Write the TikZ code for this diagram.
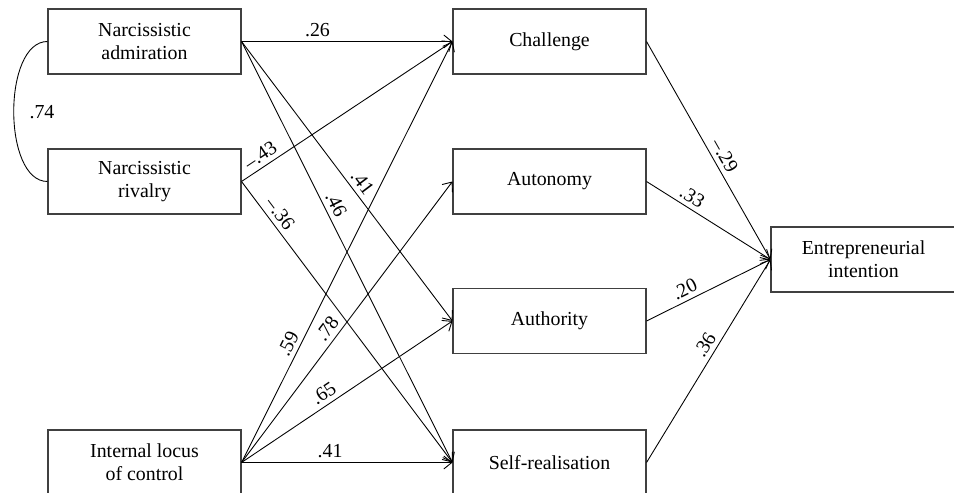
\documentclass[tikz,border=0pt]{standalone}
\usepackage{fontspec}
\setmainfont{Liberation Serif}
\usetikzlibrary{arrows.meta}

\tikzset{
  varbox/.style={draw=black!75, line width=0.6pt, minimum width=3.86cm, minimum height=1.3cm,
    align=center, inner sep=0pt},
  effect/.style={->, line width=0.5pt},
  coef/.style={sloped, above, inner sep=2.5pt},
}

\begin{document}
\begin{tikzpicture}[>={Straight Barb[length=1.6mm,width=2.6mm]},
    font=\fontsize{11.3}{12.9}\selectfont]
        \useasboundingbox (0,0) rectangle (19.08,9.84);

        \def\xleft{2.89}
        \def\xmid{10.99}

        % Predictors
        \node[varbox] (adm) at (\xleft,9.01) {Narcissistic\\admiration};
        \node[varbox] (riv) at (\xleft,6.21) {Narcissistic\\rivalry};
        \node[varbox] (loc) at (\xleft,0.59) {Internal locus\\of control};

        % Motives
        \node[varbox] (cha) at (\xmid,9.01) {Challenge};
        \node[varbox] (aut) at (\xmid,6.21) {Autonomy};
        \node[varbox] (auth) at (\xmid,3.42) {Authority};
        \node[varbox] (self) at (\xmid,0.59) {Self-realisation};

        % Outcome
        \node[varbox, minimum width=3.7cm] (ei) at (17.27,4.65) {Entrepreneurial\\intention};

        % Correlation
        \draw[line width=0.5pt] (adm.west) .. controls +(-0.9,0) and +(-0.9,0) .. (riv.west);
        \node (r) at (0.84,7.6) {.74};

        % Paths to motives
        \draw[effect] (adm.east) -- node[coef, pos=0.36] {.26} (cha.west);
        \draw[effect] (adm.east) -- node[coef, pos=0.53] {.41} (auth.west);
        \draw[effect] (adm.east) -- node[coef, pos=0.40] {.46} (self.west);
        \draw[effect] (riv.east) -- node[coef, pos=0.12] {–.43} (cha.west);
        \draw[effect] (riv.east) -- node[coef, pos=0.14] {–.36} (self.west);
        \draw[effect] (loc.east) -- node[coef, pos=0.27] {.59} (cha.west);
        \draw[effect] (loc.east) -- node[coef, pos=0.45] {.78} (aut.west);
        \draw[effect] (loc.east) -- node[coef, pos=0.42] {.65} (auth.west);
        \draw[effect] (loc.east) -- node[coef, pos=0.42] {.41} (self.west);

        % Paths to intention
        \draw[effect] (cha.east) -- node[coef, pos=0.55] {–.29} (ei.west);
        \draw[effect] (aut.east) -- node[coef, pos=0.32] {.33} (ei.west);
        \draw[effect] (auth.east) -- node[coef, pos=0.35] {.20} (ei.west);
        \draw[effect] (self.east) -- node[coef, pos=0.55] {.36} (ei.west);
\end{tikzpicture}
\end{document}
